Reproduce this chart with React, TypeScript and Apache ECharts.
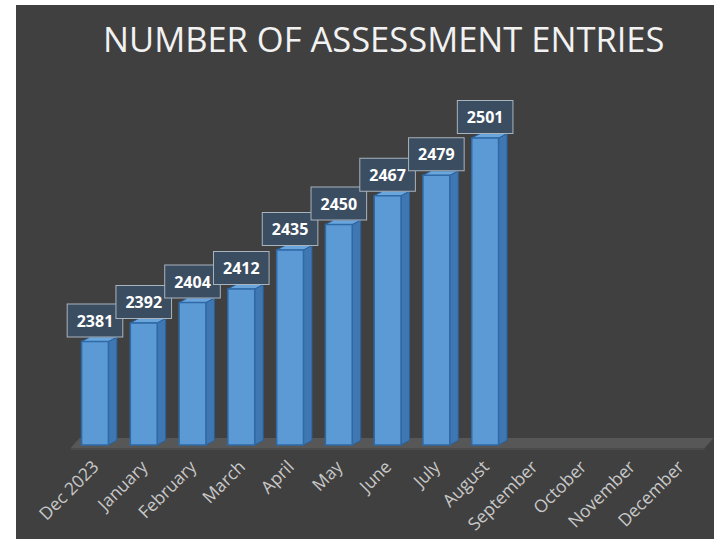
import React, { useEffect, useRef } from "react";
import * as echarts from "echarts";

const chartTitle = "NUMBER OF ASSESSMENT ENTRIES";
const categories = [
  "Dec 2023",
  "January",
  "February",
  "March",
  "April",
  "May",
  "June",
  "July",
  "August",
  "September",
  "October",
  "November",
  "December",
];
const entries = [2381, 2392, 2404, 2412, 2435, 2450, 2467, 2479, 2501];
const axisMin = 2320;
const axisMax = 2560;

const FONT = "'Open Sans', 'Noto Sans', sans-serif";

export default function App() {
  const ref = useRef<HTMLDivElement>(null);

  useEffect(() => {
    if (!ref.current) return;
    const chart = echarts.init(ref.current, undefined, { renderer: "svg" });

    const barData = entries.map((v, i) => [i, v]);

    const option: any = {
      animation: false,
      backgroundColor: "#404040",
      title: {
        text: chartTitle,
        left: 82,
        top: 11,
        textStyle: {
          color: "#f2f2f2",
          fontSize: 34.5,
          fontWeight: "normal",
          fontFamily: FONT,
        },
      },
      grid: { left: 54.6, top: 33, width: 634, height: 407 },
      xAxis: {
        type: "category",
        data: categories,
        axisLine: { show: false },
        axisTick: { show: false },
        axisLabel: {
          rotate: 45,
          interval: 0,
          margin: 18,
          color: "#c8c8c8",
          fontSize: 17.5,
          fontFamily: FONT,
        },
        splitLine: { show: false },
      },
      yAxis: {
        type: "value",
        min: axisMin,
        max: axisMax,
        show: false,
        splitLine: { show: false },
      },
      series: [
        {
          type: "custom",
          name: "floor",
          data: [[0, axisMin]],
          z: 1,
          silent: true,
          renderItem: (params: any, api: any) => {
            const cs = params.coordSys;
            const baseY = cs.y + cs.height;
            const left = cs.x;
            const right = cs.x + cs.width;
            const depthX = 9;
            const front = baseY + 3;
            const back = baseY - 7;
            return {
              type: "group",
              children: [
                {
                  type: "polygon",
                  shape: {
                    points: [
                      [left, front],
                      [right, front],
                      [right + depthX, back],
                      [left + depthX, back],
                    ],
                  },
                  style: { fill: "#575757" },
                },
                {
                  type: "rect",
                  shape: { x: left, y: front, width: right - left, height: 2 },
                  style: { fill: "#4a4a4a" },
                },
              ],
            };
          },
        },
        {
          type: "custom",
          name: "Entries",
          data: barData,
          z: 2,
          renderItem: (params: any, api: any) => {
            const idx = api.value(0);
            const v = api.value(1);
            const top = api.coord([idx, v]);
            const base = api.coord([idx, axisMin]);
            const band = api.size([1, 0])[0];
            const fw = band * 0.55;
            const dx = 8.5;
            const dy = 4.5;
            const cx = top[0];
            const xl = cx - fw / 2;
            const xr = cx + fw / 2;
            const ty = top[1];
            const by = base[1];
            return {
              type: "group",
              children: [
                {
                  type: "polygon",
                  shape: {
                    points: [
                      [xr, ty],
                      [xr + dx, ty - dy],
                      [xr + dx, by - dy],
                      [xr, by],
                    ],
                  },
                  style: { fill: "#3f77b3", stroke: "#2a5f99", lineWidth: 1 },
                },
                {
                  type: "polygon",
                  shape: {
                    points: [
                      [xl, ty],
                      [xl + dx, ty - dy],
                      [xr + dx, ty - dy],
                      [xr, ty],
                    ],
                  },
                  style: { fill: "#6aa6dc", stroke: "#2a5f99", lineWidth: 1 },
                },
                {
                  type: "rect",
                  shape: { x: xl, y: ty, width: fw, height: by - ty },
                  style: { fill: "#5b9ad5", stroke: "#2f6aa6", lineWidth: 1.5 },
                },
                {
                  type: "text",
                  x: cx,
                  y: ty - 5,
                  style: {
                    text: String(v),
                    align: "center",
                    verticalAlign: "bottom",
                    fill: "#ffffff",
                    fontSize: 16,
                    fontWeight: "bold",
                    fontFamily: FONT,
                    lineHeight: 18,
                    backgroundColor: "#3b4d61",
                    borderColor: "#a9b3bd",
                    borderWidth: 1,
                    padding: [7, 9, 7, 9],
                  },
                },
              ],
            };
          },
        },
      ],
    };

    chart.setOption(option);
    return () => chart.dispose();
  }, []);

  return (
    <div
      style={{
        position: "fixed",
        left: 0,
        top: 0,
        width: 714,
        height: 539,
        background: "#ffffff",
      }}
    >
      <div
        ref={ref}
        style={{ position: "absolute", left: 16, top: 5, width: 698, height: 534 }}
      />
    </div>
  );
}
